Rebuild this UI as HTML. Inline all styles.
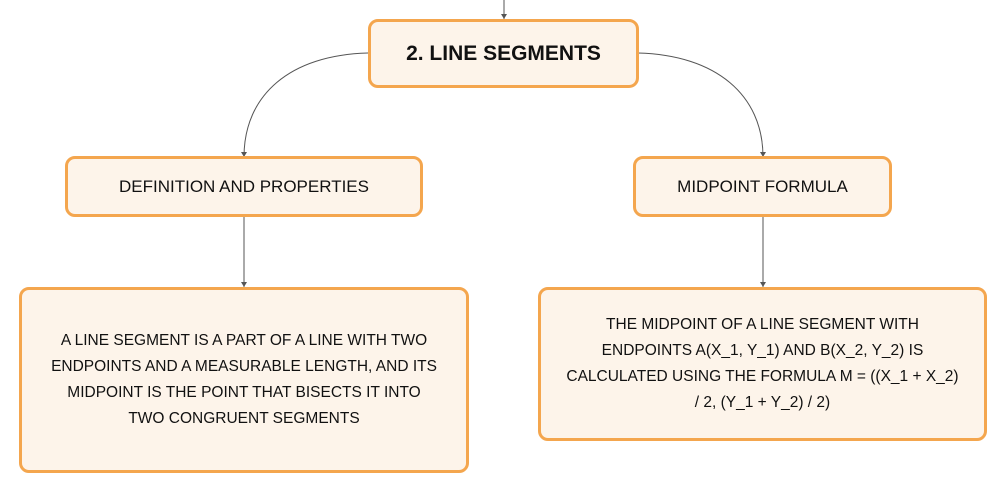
<!DOCTYPE html>
<html><head><style>
body{margin:0;width:1008px;height:494px;background:#fff;position:relative;overflow:hidden;font-family:"Liberation Sans",sans-serif;color:#111}
.b{position:absolute;box-sizing:border-box;border:3px solid #f4a64e;background:#fdf4ea;border-radius:10px;display:flex;align-items:center;justify-content:center;text-align:center}
.s{font-size:17px}
.t{font-size:15.5px;line-height:26px}
svg{position:absolute;left:0;top:0}
</style></head><body>
<svg width="1008" height="494">
<g fill="none" stroke="#555" stroke-width="1">
<path d="M504 0 V19"/>
<path d="M368 53 C290 55 244 95 244 157"/>
<path d="M638 53 C716 55 763 95 763 157"/>
<path d="M244 216 V287"/>
<path d="M763 216 V287"/>
</g>
<g fill="#555">
<path d="M501 14 L504 19 L507 14Z"/>
<path d="M241 152 L244 157 L247 152Z"/>
<path d="M760 152 L763 157 L766 152Z"/>
<path d="M241 282 L244 287 L247 282Z"/>
<path d="M760 282 L763 287 L766 282Z"/>
</g>
</svg>
<div class="b" style="left:368px;top:19px;width:271px;height:69px;font-weight:bold;font-size:21px">2. LINE SEGMENTS</div>
<div class="b s" style="left:65px;top:156px;width:358px;height:61px">DEFINITION AND PROPERTIES</div>
<div class="b s" style="left:633px;top:156px;width:259px;height:61px">MIDPOINT FORMULA</div>
<div class="b t" style="left:19px;top:287px;width:450px;height:186px;padding:0 10px">A LINE SEGMENT IS A PART OF A LINE WITH TWO<br>ENDPOINTS AND A MEASURABLE LENGTH, AND ITS<br>MIDPOINT IS THE POINT THAT BISECTS IT INTO<br>TWO CONGRUENT SEGMENTS</div>
<div class="b t" style="left:538px;top:287px;width:449px;height:154px;padding:0 14px">THE MIDPOINT OF A LINE SEGMENT WITH<br>ENDPOINTS A(X_1, Y_1) AND B(X_2, Y_2) IS<br>CALCULATED USING THE FORMULA M = ((X_1 + X_2)<br>/ 2, (Y_1 + Y_2) / 2)</div>
</body></html>
